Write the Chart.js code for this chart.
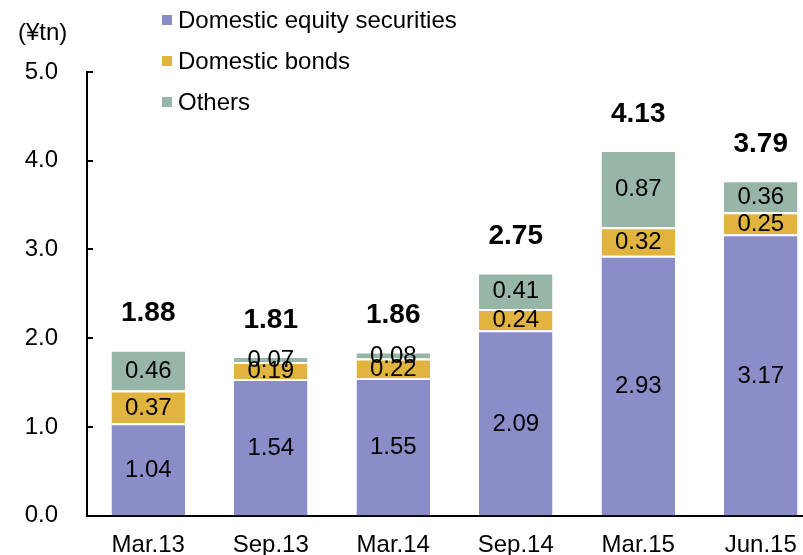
<!DOCTYPE html>
<html>
<head>
<meta charset="utf-8">
<script src="https://cdn.jsdelivr.net/npm/chart.js@4"></script>
<style>
  html, body { margin: 0; padding: 0; background: #fff; overflow: hidden; }
  #chart { display: block; }
</style>
</head>
<body>
<canvas id="chart" width="825" height="559"></canvas>
<script>
// stacked bars: domestic equity / bonds / others, in yen trillions
const periods = ["Mar.13", "Sep.13", "Mar.14", "Sep.14", "Mar.15", "Jun.15"];
const equity = [1.04, 1.54, 1.55, 2.09, 2.93, 3.17];
const bonds = [0.37, 0.19, 0.22, 0.24, 0.32, 0.25];
const others = [0.46, 0.07, 0.08, 0.41, 0.87, 0.36];
const totals = ["1.88", "1.81", "1.86", "2.75", "4.13", "3.79"];
const yTicks = [0, 1, 2, 3, 4, 5];

const FONT = "'Liberation Sans', Arial, sans-serif";

const labelsPlugin = {
  id: "barLabels",
  afterDatasetsDraw(chart) {
    const ctx = chart.ctx;
    ctx.save();
    ctx.fillStyle = "#000";
    ctx.textAlign = "center";
    ctx.textBaseline = "middle";
    ctx.font = "24px " + FONT;
    chart.data.datasets.forEach((ds, i) => {
      const meta = chart.getDatasetMeta(i);
      meta.data.forEach((bar, j) => {
        const y = (bar.y + bar.base) / 2;
        ctx.fillText(ds.data[j].toFixed(2), bar.x, y + 1);
      });
    });
    // totals above each stack
    const top = chart.getDatasetMeta(chart.data.datasets.length - 1);
    ctx.font = "bold 28px " + FONT;
    top.data.forEach((bar, j) => {
      ctx.fillText(totals[j], bar.x, bar.y - 36);
    });
    ctx.restore();
  },
  afterDraw(chart) {
    const ctx = chart.ctx;
    const y = chart.scales.y;
    ctx.save();
    // inward tick marks on the value axis
    ctx.strokeStyle = "#000";
    ctx.lineWidth = 2;
    y.ticks.forEach((t, i) => {
      const py = Math.round(y.getPixelForTick(i));
      ctx.beginPath();
      ctx.moveTo(y.right, py);
      ctx.lineTo(y.right + 6, py);
      ctx.stroke();
    });
    // unit label
    ctx.fillStyle = "#000";
    ctx.font = "24px " + FONT;
    ctx.textAlign = "left";
    ctx.textBaseline = "middle";
    ctx.fillText("(\u00a5tn)", 18, 33);
    // legend, stacked vertically
    const items = chart.data.datasets;
    items.forEach((ds, i) => {
      const ly = 20 + i * 41;
      ctx.fillStyle = ds.backgroundColor;
      ctx.fillRect(162, ly - 5, 10, 10);
      ctx.fillStyle = "#000";
      ctx.fillText(ds.label, 178, ly + 1);
    });
    ctx.restore();
  }
};

new Chart(document.getElementById("chart"), {
  type: "bar",
  data: {
    labels: periods,
    datasets: [
      { label: "Domestic equity securities", data: equity, backgroundColor: "#8b8dc8" },
      { label: "Domestic bonds", data: bonds, backgroundColor: "#e0b43e" },
      { label: "Others", data: others, backgroundColor: "#98b6a7" }
    ].map((d) => Object.assign(d, {
      borderColor: "#ffffff",
      borderWidth: { top: 2, left: 0, right: 0, bottom: 0 },
      borderSkipped: "start",
      categoryPercentage: 1,
      barPercentage: 0.6
    }))
  },
  plugins: [labelsPlugin],
  options: {
    responsive: false,
    animation: false,
    layout: { padding: { top: 72, left: 0, right: 3, bottom: 0 } },
    plugins: {
      legend: { display: false },
      tooltip: { enabled: false }
    },
    scales: {
      x: {
        stacked: true,
        afterFit: (scale) => { scale.height = 43; },
        grid: { display: false, drawTicks: false, tickLength: 0 },
        border: { display: true, color: "#000", width: 2 },
        ticks: { color: "#000", padding: 15, font: { family: FONT, size: 24 } }
      },
      y: {
        stacked: true,
        min: 0,
        max: 5,
        afterFit: (scale) => { scale.width = 87; },
        afterBuildTicks: (scale) => { scale.ticks = yTicks.map((v) => ({ value: v })); },
        grid: { display: false, drawTicks: false, tickLength: 0 },
        border: { display: true, color: "#000", width: 2 },
        ticks: {
          color: "#000",
          padding: 29,
          font: { family: FONT, size: 24 },
          callback: (v) => Number(v).toFixed(1)
        }
      }
    }
  }
});
</script>
</body>
</html>
